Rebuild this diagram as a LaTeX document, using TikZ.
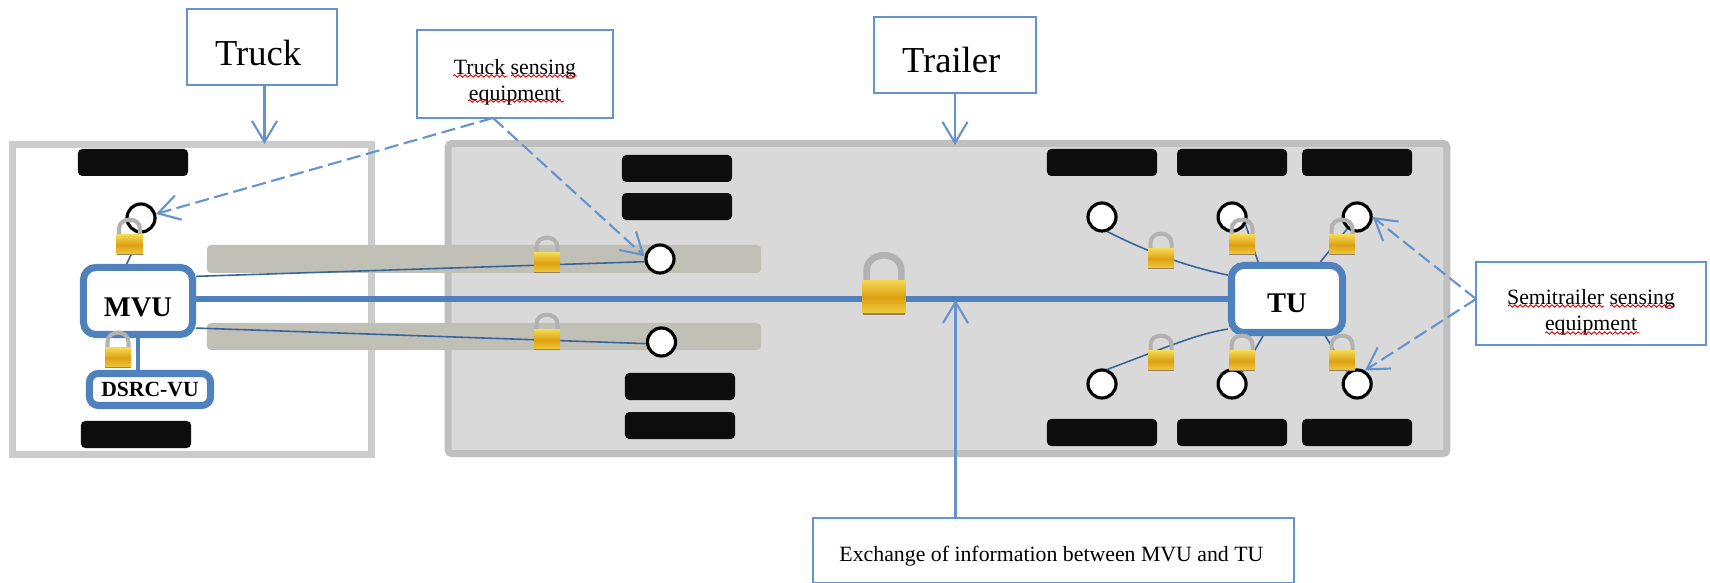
\documentclass[tikz,border=0pt]{standalone}
\usepackage{fontspec}
\setmainfont{Liberation Serif}
\usetikzlibrary{arrows.meta,decorations.pathmorphing}
\definecolor{boxblue}{HTML}{4F81BD}
\definecolor{edgeblue}{HTML}{6593CE}
\definecolor{wireblue}{HTML}{35659C}
\definecolor{barsand}{HTML}{C1C0B6}
\definecolor{goldlight}{HTML}{F3D650}
\definecolor{golddark}{HTML}{DDA012}
\definecolor{goldlow}{HTML}{F0CE40}
\begin{document}
\begin{tikzpicture}[x=.01cm, y=-.01cm, >={Straight Barb[length=.21cm,width=.25cm]}, node distance=.38cm,
	callout/.style={draw=edgeblue, line width=.5pt, fill=white, inner sep=0pt, align=center},
	pointer/.style={->, draw=edgeblue, line width=.6pt},
	dashpointer/.style={pointer, dash pattern=on 4pt off 1.6pt},
	tyre/.style={fill=black!95, rounded corners=1.2pt, minimum width=1.1cm, minimum height=.27cm, inner sep=0pt},
	sensor/.style={circle, draw=black, fill=white, line width=.9pt, minimum size=.28cm, inner sep=0pt},
	unit/.style={draw=boxblue, fill=white, line width=2pt, rounded corners=3.5pt, inner sep=0pt, font=\fontsize{8.1}{9}\selectfont\bfseries},
	wire/.style={draw=wireblue, line width=.45pt},
	bar/.style={fill=barsand, rounded corners=1.2pt, minimum width=5.54cm, inner sep=0pt},
	squiggle/.style={draw=red!85!black, line width=.25pt, decorate, decoration={snake, segment length=1.5pt, amplitude=.35pt}},
	shackle/.style={draw=black!30, line width=1.15pt},
	pics/padlock/.style={code={
		\draw[shackle] (-10.5,0) -- (-10.5,-8) .. controls (-10.5,-20.5) and (10.5,-20.5) .. (10.5,-8) -- (10.5,0);
		\path[top color=goldlight, bottom color=goldlow, middle color=golddark] (-13,-2) rectangle (13,18);
		\path[fill=brown!40!gray] (-13,17.5) rectangle (13,18.5);
	}}]
	\useasboundingbox (0,0) rectangle (1710,583);

	\node[draw=black!20, fill=white, line width=2pt, minimum width=3.59cm, minimum height=3.105cm, inner sep=0pt] (truck) at (192,299.5) {};
	\node[draw=black!25, fill=black!15, line width=2pt, rounded corners=1pt, minimum width=9.98cm, minimum height=3.1cm, inner sep=0pt] (trailer) at (947.5,298.5) {};

	\node[bar, minimum height=.28cm] (bar1) at (484,259) {};
	\node[bar, minimum height=.27cm] (bar2) at (484,336.5) {};

	\node[tyre] (w1) at (133,162.5) {};
	\node[tyre] (w2) at (136,434.5) {};
	\node[tyre] (w3) at (677,168.5) {};
	\node[tyre, below of=w3] (w4) {};
	\node[tyre] (w5) at (680,386.5) {};
	\node[tyre, below of=w5, node distance=.39cm] (w6) {};
	\node[tyre] (w7) at (1102,162.5) {};
	\node[tyre, right of=w7, node distance=1.3cm] (w8) {};
	\node[tyre, right of=w8, node distance=1.25cm] (w9) {};
	\node[tyre] (w10) at (1102,432.5) {};
	\node[tyre, right of=w10, node distance=1.3cm] (w11) {};
	\node[tyre, right of=w11, node distance=1.25cm] (w12) {};

	\node[sensor, fill=none] (s0) at (141,218) {};
	\node[sensor] (s1) at (660,259) {};
	\node[sensor] (s2) at (661.5,342) {};
	\node[sensor] (s3) at (1102,217) {};
	\node[sensor, right of=s3, node distance=1.3cm] (s4) {};
	\node[sensor, right of=s4, node distance=1.25cm] (s5) {};
	\node[sensor] (s6) at (1102,384) {};
	\node[sensor, right of=s6, node distance=1.3cm] (s7) {};
	\node[sensor, right of=s7, node distance=1.25cm] (s8) {};

	\node[unit, minimum width=1.09cm, minimum height=.67cm] (mvu) at (138,301) {\rule{0pt}{8.8pt}MVU};
	\node[unit, minimum width=1.21cm, minimum height=.32cm, rounded corners=2.5pt, font=\fontsize{6.15}{7}\selectfont\bfseries] (dsrc) at (150,389.5) {DSRC-VU};
	\node[unit, minimum width=1.11cm, minimum height=.67cm] (tu) at (1287,299) {\rule{0pt}{7.6pt}TU\hspace{1pt}};

	\node[callout, minimum width=1.5cm, minimum height=.76cm, font=\fontsize{10.4}{12}\selectfont] (trucklabel) at (262,47) {\rule{0pt}{10.6pt}Truck\hspace{2.2pt}};
	\node[callout, minimum width=1.62cm, minimum height=.76cm, font=\fontsize{10.4}{12}\selectfont] (trailerlabel) at (955,55) {\rule{0pt}{10.2pt}Trailer\hspace{2.2pt}};
	\node[callout, minimum width=1.96cm, minimum height=.88cm, font=\fontsize{6.2}{7.4}\selectfont] (trucksense) at (515,74) {\rule{0pt}{9.1pt}Truck sensing\\equipment};
	\node[callout, minimum width=2.3cm, minimum height=.83cm, font=\fontsize{6.2}{7.4}\selectfont] (semisense) at (1591,303.5) {\rule{0pt}{9.2pt}Semitrailer sensing\\equipment};
	\node[callout, minimum width=4.8cm, minimum height=.645cm, font=\fontsize{6.2}{7.4}\selectfont] (exchange) at (1053.5,550.3) {\rule{0pt}{7.5pt}Exchange of information between MVU and TU\hspace{1.2pt}};

	\coordinate (truckedge) at (264.5,144);
	\coordinate (traileredge) at (955,145);
	\coordinate (mainline) at (955.5,300);
	\coordinate (truckfoot) at (493,118);
	\coordinate (semifoot) at (1476,299);

	\draw[pointer] (truckedge |- trucklabel.south) -- (truckedge);
	\draw[pointer] (trailerlabel.south) -- (traileredge);
	\draw[dashpointer] (truckfoot) -- (s0.15);
	\draw[dashpointer] (truckfoot) -- (s1.170);
	\draw[dashpointer] (semifoot) -- (s5.east);
	\draw[dashpointer] (semifoot) -- (s8.60);

	\draw[boxblue, line width=1.7pt] (tu.west) -- (tu.west -| mvu.east);
	\draw[boxblue, line width=.9pt] (mvu.south) -- (mvu.south |- dsrc.north);
	\draw[pointer] (exchange.north -| mainline) -- (mainline);

	\draw[wire] (s0.south) -- (mvu.107);
	\draw[wire] (mvu.23) -- (s1.190);
	\draw[wire] (mvu.-25) -- (s2.186);
	\draw[wire] (s3.-70) .. controls (1160,258) and (1195,268) .. (tu.158);
	\draw[wire] (s6.70) .. controls (1160,350) and (1195,334) .. (tu.207);
	\draw[wire] (s4.-30) -- (tu.128);
	\draw[wire] (s5.-130) -- (tu.48);
	\draw[wire] (s7.50) -- (tu.237);
	\draw[wire] (s8.130) -- (tu.316);

	\pic at (129.5,237) {padlock};
	\pic at (118,350) {padlock};
	\pic at (547,255) {padlock};
	\pic at (547,332) {padlock};
	\pic[scale=1.65, shackle/.append style={line width=1.9pt}] at (884,284) {padlock};
	\pic at (1161,251) {padlock};
	\pic at (1242,237) {padlock};
	\pic at (1342,237) {padlock};
	\pic at (1161,353) {padlock};
	\pic at (1242,353) {padlock};
	\pic at (1342,353) {padlock};

	\draw[squiggle] (453,76) -- (508,76);
	\draw[squiggle] (511,76) -- (577,76);
	\draw[squiggle] (468,101) -- (564,101);
	\draw[squiggle] (1508,306) -- (1604,306);
	\draw[squiggle] (1610,306) -- (1675,306);
	\draw[squiggle] (1545,333) -- (1640,333);
\end{tikzpicture}
\end{document}
